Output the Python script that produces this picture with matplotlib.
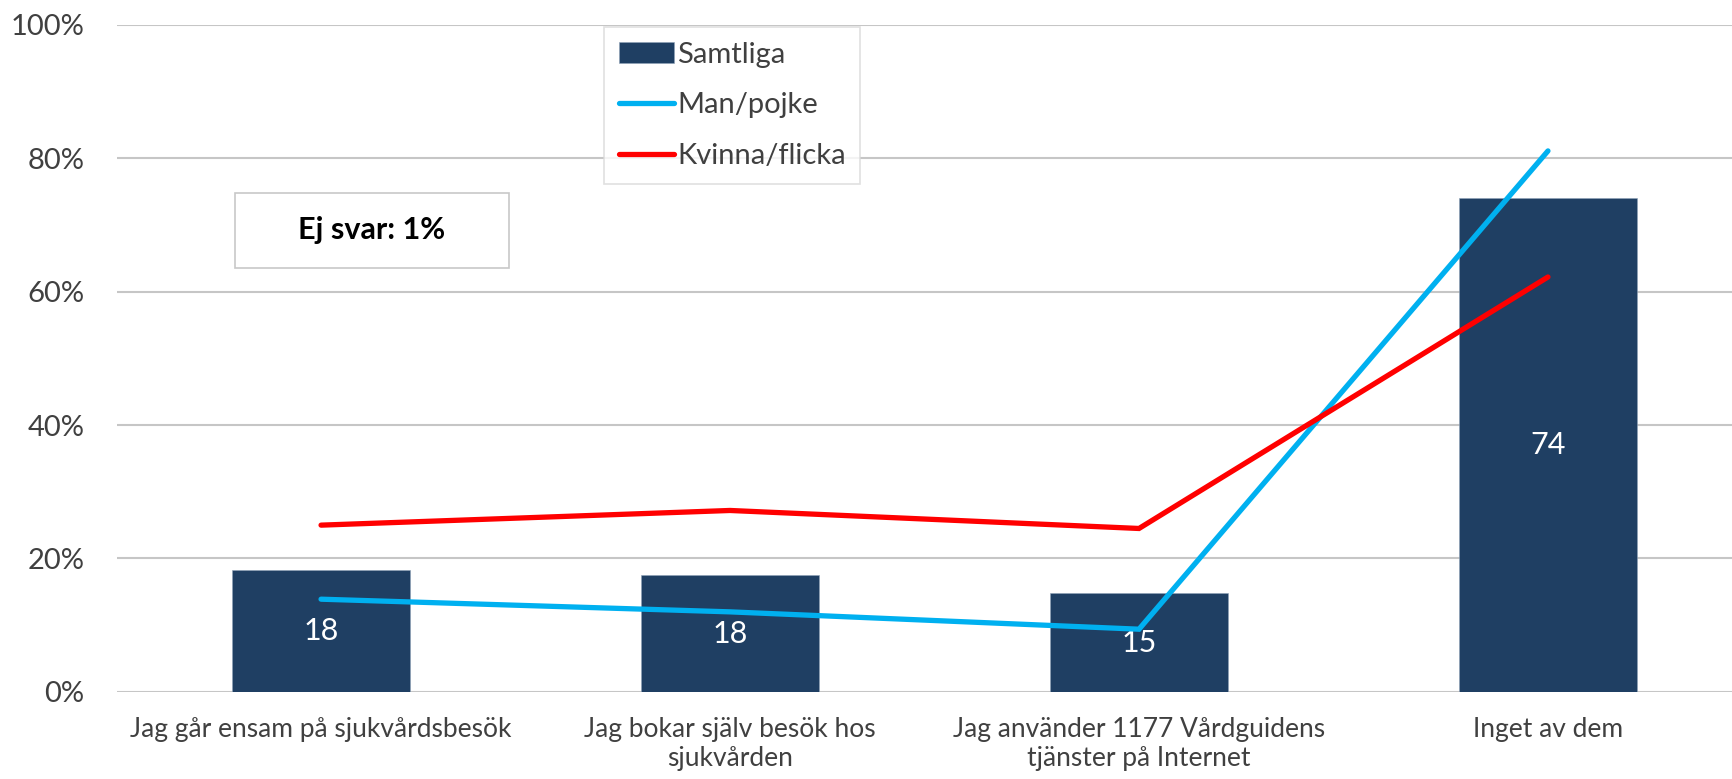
#!/usr/bin/env python3
"""Bar + line chart: share of respondents per statement, total and by gender."""

import matplotlib
matplotlib.use("Agg")
import matplotlib.pyplot as plt
from matplotlib.patches import Rectangle
from matplotlib.ticker import FuncFormatter

# data (percent)
categories = [
    "Jag går ensam på sjukvårdsbesök",
    "Jag bokar själv besök hos\nsjukvården",
    "Jag använder 1177 Vårdguidens\ntjänster på Internet",
    "Inget av dem",
]
samtliga = [18.3, 17.5, 14.8, 74.1]
man_pojke = [13.9, 12.0, 9.4, 81.1]
kvinna_flicka = [25.0, 27.2, 24.5, 62.2]
no_answer_text = "Ej svar: 1%"

BAR_COLOR = "#1F3F63"
BLUE = "#00B0F0"
RED = "#FF0000"
GRID = "#C6C6C6"
TEXT = "#404040"

plt.rcParams["font.family"] = ["Lato", "DejaVu Sans"]

fig = plt.figure(figsize=(17.32, 7.79), dpi=100)
ax = fig.add_axes([0.0673, 0.1118, 1 - 0.0673, 0.8563])

x = list(range(len(categories)))
bars = ax.bar(x, samtliga, width=0.435, color=BAR_COLOR, edgecolor="#8FA3B8",
              linewidth=0.4, label="Samtliga", zorder=2)
ax.bar_label(bars, labels=[f"{v:.0f}" for v in samtliga], label_type="center",
             color="white", fontsize=22)
l_man, = ax.plot(x, man_pojke, color=BLUE, lw=3.8, solid_capstyle="round",
                 solid_joinstyle="miter", label="Man/pojke", zorder=3)
l_kv, = ax.plot(x, kvinna_flicka, color=RED, lw=3.8, solid_capstyle="round",
                solid_joinstyle="miter", label="Kvinna/flicka", zorder=3)

ax.set_xlim(-0.5, 3.45)
ax.set_ylim(0, 100)
ax.set_yticks(range(0, 101, 20))
ax.yaxis.set_major_formatter(FuncFormatter(lambda v, _: f"{v:.0f}%"))
ax.set_xticks(x)
ax.set_xticklabels(categories, fontsize=19, color=TEXT, linespacing=1.2)
ax.tick_params(axis="y", labelsize=21, labelcolor=TEXT, length=0, pad=23)
ax.tick_params(axis="x", length=0, pad=18)
ax.grid(axis="y", color=GRID, lw=1.5, zorder=0)
ax.set_axisbelow(True)
for s in ax.spines.values():
    s.set_visible(False)

leg = fig.legend([bars, l_man, l_kv], ["Samtliga", "Man/pojke", "Kvinna/flicka"],
                 loc="upper left", bbox_to_anchor=(604 / 1732, 1 - 27 / 779),
                 borderaxespad=0, fontsize=21, frameon=True, fancybox=False,
                 edgecolor="#D9D9D9", handlelength=1.9, handletextpad=0.1,
                 labelspacing=0.85, borderpad=0.5, labelcolor=TEXT)
leg.get_frame().set_linewidth(1.2)
for h in leg.legend_handles:
    if hasattr(h, "set_solid_capstyle"):
        h.set_solid_capstyle("round")

# "Ej svar" box
fig.patches.append(Rectangle((235 / 1732, 1 - 268 / 779), 274 / 1732, 75 / 779,
                             transform=fig.transFigure, facecolor="white",
                             edgecolor="#C8C8C8", lw=1.2, zorder=5))
fig.text(372 / 1732, 1 - 230 / 779, no_answer_text, ha="center", va="center",
         fontsize=22, fontweight="bold", color="black", zorder=6)

fig.savefig("out.png", dpi=100)
